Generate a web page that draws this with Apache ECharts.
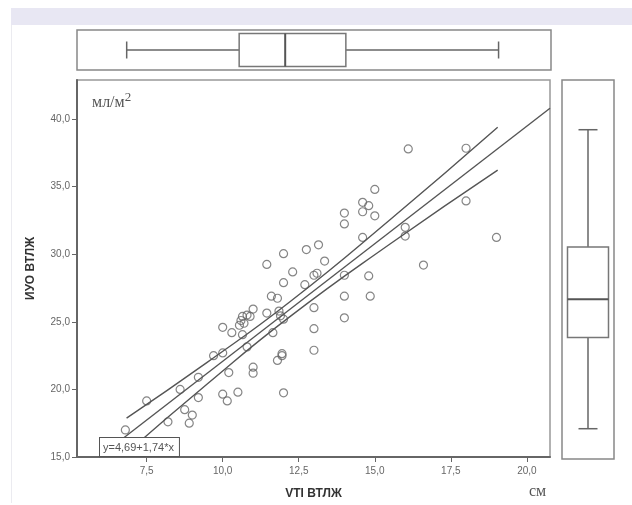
<!DOCTYPE html>
<html>
<head>
<meta charset="utf-8">
<script src="https://cdn.jsdelivr.net/npm/echarts@6/dist/echarts.min.js"></script>
<style>
  html, body { margin: 0; padding: 0; background: #fff; }
  #chart { width: 632px; height: 505px; }
</style>
</head>
<body>
<div id="chart"></div>
<script>
// axis ranges and ticks
var xRange = [5.21, 20.76];
var yRange = [15, 42.9];
var xTicks = [7.5, 10, 12.5, 15, 17.5, 20];
var yTicks = [15, 20, 25, 30, 35, 40];

// VTI (cm) vs ИУО (ml/m2)
var points = [
  [6.8, 17.0], [7.5, 19.15], [8.2, 17.6], [8.6, 20.0], [8.75, 18.5], [8.9, 17.5],
  [9.0, 18.1], [9.2, 20.9], [9.2, 19.4], [9.7, 22.5], [10.0, 22.7], [10.0, 24.6],
  [10.0, 19.65], [10.15, 19.15], [10.2, 21.25], [10.3, 24.2], [10.5, 19.8], [10.55, 24.75],
  [10.6, 25.1], [10.65, 25.4], [10.65, 24.05], [10.7, 24.9], [10.8, 25.5], [10.8, 23.15],
  [10.9, 25.4], [11.0, 25.95], [11.0, 21.65], [11.0, 21.2], [11.45, 25.65], [11.45, 29.25],
  [11.6, 26.9], [11.65, 24.2], [11.8, 26.75], [11.8, 22.15], [11.85, 25.8], [11.9, 25.45],
  [11.95, 22.65], [11.95, 22.5], [12.0, 25.2], [12.0, 27.9], [12.0, 30.05], [12.0, 19.75],
  [12.3, 28.7], [12.7, 27.75], [12.75, 30.35], [13.0, 28.45], [13.0, 26.05], [13.0, 24.5],
  [13.0, 22.9], [13.1, 28.6], [13.15, 30.7], [13.35, 29.5], [14.0, 33.05], [14.0, 32.25],
  [14.0, 28.45], [14.0, 26.9], [14.0, 25.3], [14.6, 33.85], [14.6, 33.15], [14.6, 31.25],
  [14.8, 33.6], [14.8, 28.4], [14.85, 26.9], [15.0, 34.8], [15.0, 32.85], [16.0, 32.0],
  [16.0, 31.35], [16.1, 37.8], [16.6, 29.2], [18.0, 37.85], [18.0, 33.95], [19.0, 31.25]
];

// fit line y=4,69+1,74*x and mean CI bands
var fitLine = [[5.93, 15.0], [20.76, 40.81]];
var ciUpper = [[6.84, 17.88], [9.5, 22.02], [12.2, 26.47], [15.5, 32.56], [19.04, 39.41]];
var ciLower = [[6.84, 15.30], [9.5, 20.42], [12.2, 25.37], [15.5, 30.76], [19.04, 36.23]];

// box plots: min, q1, median, q3, max
var boxX = [6.84, 10.53, 12.04, 14.03, 19.04];
var boxY = [17.23, 23.95, 26.76, 30.6, 39.24];

var equation = 'y=4,69+1,74*x';

function fmt(v) { return v.toFixed(1).replace('.', ','); }

function boxRender(horizontal) {
  return function (params, api) {
    var v = [api.value(0), api.value(1), api.value(2), api.value(3), api.value(4)];
    var st = { stroke: '#666', lineWidth: 1.5, fill: null };
    var ch = [];
    var p = function (val) { return horizontal ? api.coord([val, 0.5]) : api.coord([0.5, val]); };
    var hb = horizontal ? 16.5 : 20.5, hc = horizontal ? 8.5 : 9.5;
    var a = p(v[0]), b = p(v[1]), m = p(v[2]), c = p(v[3]), e = p(v[4]);
    if (horizontal) {
      var cy = a[1];
      ch.push({ type: 'line', shape: { x1: a[0], y1: cy, x2: b[0], y2: cy }, style: st });
      ch.push({ type: 'line', shape: { x1: c[0], y1: cy, x2: e[0], y2: cy }, style: st });
      ch.push({ type: 'line', shape: { x1: a[0], y1: cy - hc, x2: a[0], y2: cy + hc }, style: st });
      ch.push({ type: 'line', shape: { x1: e[0], y1: cy - hc, x2: e[0], y2: cy + hc }, style: st });
      ch.push({ type: 'rect', shape: { x: b[0], y: cy - hb, width: c[0] - b[0], height: 2 * hb }, style: { stroke: '#777', lineWidth: 1.5, fill: '#fff' } });
      ch.push({ type: 'line', shape: { x1: m[0], y1: cy - hb, x2: m[0], y2: cy + hb }, style: { stroke: '#555', lineWidth: 2 } });
    } else {
      var cx = a[0];
      ch.push({ type: 'line', shape: { x1: cx, y1: a[1], x2: cx, y2: b[1] }, style: st });
      ch.push({ type: 'line', shape: { x1: cx, y1: c[1], x2: cx, y2: e[1] }, style: st });
      ch.push({ type: 'line', shape: { x1: cx - hc, y1: a[1], x2: cx + hc, y2: a[1] }, style: st });
      ch.push({ type: 'line', shape: { x1: cx - hc, y1: e[1], x2: cx + hc, y2: e[1] }, style: st });
      ch.push({ type: 'rect', shape: { x: cx - hb, y: c[1], width: 2 * hb, height: b[1] - c[1] }, style: { stroke: '#777', lineWidth: 1.5, fill: '#fff' } });
      ch.push({ type: 'line', shape: { x1: cx - hb, y1: m[1], x2: cx + hb, y2: m[1] }, style: { stroke: '#555', lineWidth: 2 } });
    }
    return { type: 'group', children: ch };
  };
}

var chart = echarts.init(document.getElementById('chart'));
var lineStyle = { color: '#555', width: 1.4 };
var serif = 'Liberation Serif, DejaVu Serif, serif';

var option = {
  backgroundColor: '#fff',
  animation: false,
  textStyle: { fontFamily: 'Liberation Sans, Arial, sans-serif' },
  grid: [
    { left: 77, top: 80, width: 473, height: 379, show: true, borderColor: '#999', borderWidth: 1.5 },
    { left: 77, top: 30, width: 474, height: 40, show: true, borderColor: '#888', borderWidth: 1.5 },
    { left: 562, top: 80, width: 52, height: 379, show: true, borderColor: '#888', borderWidth: 1.5 }
  ],
  xAxis: [
    {
      gridIndex: 0, type: 'value', min: xRange[0], max: xRange[1],
      name: 'VTI ВТЛЖ', nameLocation: 'middle', nameGap: 31,
      nameTextStyle: { fontSize: 12, fontWeight: 'bold', color: '#333' },
      axisLine: { show: true, onZero: false, lineStyle: { color: '#666', width: 2 } },
      axisTick: { show: true, length: 5, customValues: xTicks, lineStyle: { color: '#666' } },
      axisLabel: { customValues: xTicks, formatter: fmt, color: '#666', fontSize: 10, margin: 9 },
      splitLine: { show: false }
    },
    { gridIndex: 1, type: 'value', min: xRange[0], max: xRange[1], show: false },
    { gridIndex: 2, type: 'value', min: 0, max: 1, show: false }
  ],
  yAxis: [
    {
      gridIndex: 0, type: 'value', min: yRange[0], max: yRange[1],
      name: 'ИУО ВТЛЖ', nameLocation: 'middle', nameGap: 40,
      nameTextStyle: { fontSize: 12, fontWeight: 'bold', color: '#333' },
      axisLine: { show: true, onZero: false, lineStyle: { color: '#666', width: 2 } },
      axisTick: { show: true, length: 5, customValues: yTicks, lineStyle: { color: '#666' } },
      axisLabel: { customValues: yTicks, formatter: fmt, color: '#666', fontSize: 10, margin: 7 },
      splitLine: { show: false }
    },
    { gridIndex: 1, type: 'value', min: 0, max: 1, show: false },
    { gridIndex: 2, type: 'value', min: yRange[0], max: yRange[1], show: false }
  ],
  graphic: [
    { type: 'rect', left: 11, top: 8, shape: { width: 621, height: 17 }, style: { fill: '#e8e7f3' }, z: 0 },
    { type: 'rect', left: 11, top: 25, shape: { width: 1, height: 478 }, style: { fill: '#ebebf0' }, z: 0 },
    {
      type: 'text', left: 92, top: 91, z: 100,
      style: {
        text: '{a|мл/м}{b|2}',
        rich: {
          a: { fontSize: 16, fontFamily: serif, fill: '#555', lineHeight: 20, verticalAlign: 'bottom' },
          b: { fontSize: 13, fontFamily: serif, fill: '#555', lineHeight: 20, verticalAlign: 'top' }
        }
      }
    },
    {
      type: 'text', left: 529, top: 484, z: 100,
      style: { text: 'см', fontSize: 16, fontFamily: serif, fill: '#555' }
    },
    {
      type: 'text', left: 99, top: 437, z: 100,
      style: {
        text: equation, fontSize: 11, fill: '#555', fontFamily: 'Liberation Sans, Arial, sans-serif',
        backgroundColor: '#fff', borderColor: '#555', borderWidth: 1, padding: [4, 5, 3, 3]
      }
    }
  ],
  series: [
    {
      type: 'line', xAxisIndex: 0, yAxisIndex: 0, data: ciUpper, smooth: true,
      showSymbol: false, lineStyle: lineStyle, silent: true
    },
    {
      type: 'line', xAxisIndex: 0, yAxisIndex: 0, data: ciLower, smooth: true,
      showSymbol: false, lineStyle: lineStyle, silent: true
    },
    {
      type: 'line', xAxisIndex: 0, yAxisIndex: 0, data: fitLine,
      showSymbol: false, lineStyle: lineStyle, silent: true
    },
    {
      type: 'scatter', xAxisIndex: 0, yAxisIndex: 0, data: points,
      symbol: 'circle', symbolSize: 8,
      itemStyle: { color: 'rgba(255,255,255,0)', borderColor: '#666', borderWidth: 1.2 }
    },
    {
      type: 'custom', xAxisIndex: 1, yAxisIndex: 1, data: [boxX],
      renderItem: boxRender(true)
    },
    {
      type: 'custom', xAxisIndex: 2, yAxisIndex: 2, data: [boxY],
      renderItem: boxRender(false)
    }
  ]
};
chart.setOption(option);
</script>
</body>
</html>
